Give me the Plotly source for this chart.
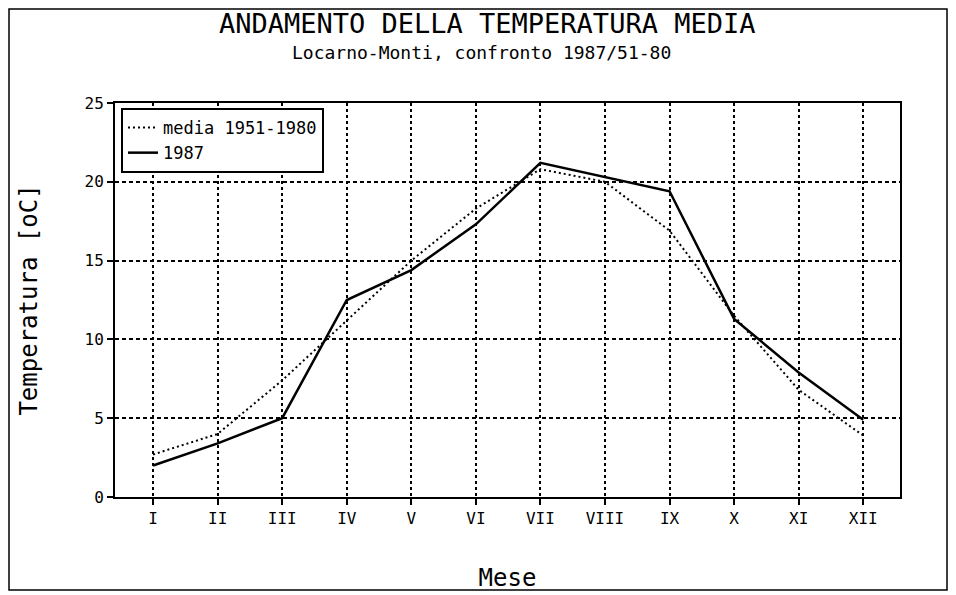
import plotly.graph_objects as go

months = ["I", "II", "III", "IV", "V", "VI", "VII", "VIII", "IX", "X", "XI", "XII"]
month_pos = list(range(1, 13))
media_1951_1980 = [2.7, 4.0, 7.4, 11.2, 15.0, 18.3, 20.8, 20.0, 16.9, 11.5, 6.8, 3.9]
anno_1987 = [2.0, 3.4, 5.0, 12.5, 14.4, 17.3, 21.2, 20.3, 19.4, 11.3, 7.9, 4.9]
y_ticks = [0, 5, 10, 15, 20, 25]

MONO = "DejaVu Sans Mono"

fig = go.Figure()
fig.add_trace(go.Scatter(x=month_pos, y=media_1951_1980, mode="lines", name="media 1951-1980",
                         line=dict(color="black", width=2, dash="2px,3px")))
fig.add_trace(go.Scatter(x=month_pos, y=anno_1987, mode="lines", name="1987",
                         line=dict(color="black", width=2.5)))

OFF = 8  # page offset of the figure (body margin)
W, H = 956, 595
L, T = 115 - OFF, 103 - OFF
R = W - (900 - OFF)
B = H - (497 - OFF)
pw, ph = W - L - R, H - T - B

def px_x(p):
    return (p - OFF - L) / pw

def px_y(p):
    return 1 - (p - OFF - T) / ph

fig.update_layout(
    width=W, height=H,
    margin=dict(l=L, r=R, t=T, b=B),
    paper_bgcolor="white", plot_bgcolor="white",
    font=dict(family=MONO, color="black"),
    showlegend=True,
    legend=dict(x=px_x(121), y=px_y(108), xanchor="left", yanchor="top",
                bordercolor="black", borderwidth=2, bgcolor="white",
                font=dict(family=MONO, size=17), itemwidth=30, tracegroupgap=0),
    xaxis=dict(range=[0.41, 12.57], tickmode="array", tickvals=month_pos, ticktext=months,
               showgrid=True, gridcolor="black", gridwidth=1.5, griddash="3px,3px",
               showline=True, linecolor="black", linewidth=2, mirror=True,
               ticks="outside", ticklen=6, tickcolor="black", tickwidth=1.5,
               tickfont=dict(family=MONO, size=16), zeroline=False,
               title=dict(text="Mese", font=dict(family=MONO, size=24), standoff=42)),
    yaxis=dict(range=[0, 25], tickmode="array", tickvals=y_ticks,
               showgrid=True, gridcolor="black", gridwidth=1.5, griddash="4px,3px",
               showline=True, linecolor="black", linewidth=2, mirror=True,
               ticks="outside", ticklen=6, tickcolor="black", tickwidth=1.5,
               tickfont=dict(family=MONO, size=16), zeroline=False,
               title=dict(text="Temperatura [oC]", font=dict(family=MONO, size=24), standoff=40)),
)

fig.add_annotation(text="ANDAMENTO DELLA TEMPERATURA MEDIA", xref="paper", yref="paper",
                   x=px_x(487), y=px_y(23), xanchor="center", yanchor="middle", showarrow=False,
                   font=dict(family=MONO, size=27, color="black"))
fig.add_annotation(text="Locarno-Monti, confronto 1987/51-80", xref="paper", yref="paper",
                   x=px_x(481), y=px_y(53), xanchor="center", yanchor="middle", showarrow=False,
                   font=dict(family=MONO, size=18, color="black"))

fig.add_shape(type="rect", xref="paper", yref="paper",
              x0=px_x(9), x1=px_x(947), y0=px_y(590), y1=px_y(9),
              line=dict(color="black", width=1.5), layer="below")

fig.write_html("out.html")
